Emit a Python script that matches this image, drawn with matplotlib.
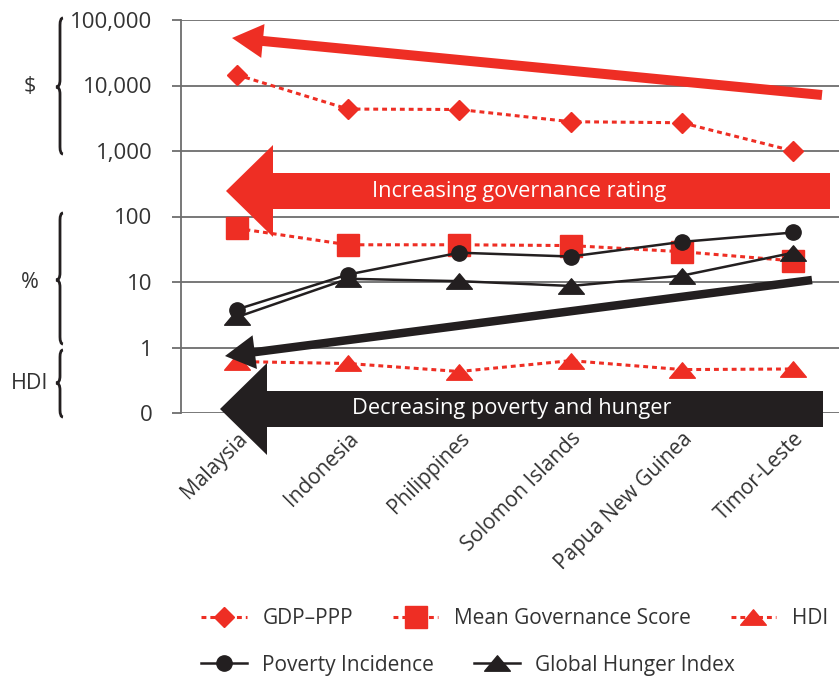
import matplotlib
matplotlib.use('Agg')
import matplotlib.pyplot as plt
from matplotlib.lines import Line2D
from matplotlib.patches import Polygon, PathPatch
from matplotlib.path import Path
import numpy as np

plt.rcParams['font.family'] = ['Open Sans', 'DejaVu Sans']

countries = ['Malaysia', 'Indonesia', 'Philippines', 'Solomon Islands', 'Papua New Guinea', 'Timor-Leste']
gdp_ppp = [14600, 4370, 4300, 2800, 2700, 1000]
governance = [66, 37, 37, 36, 29, 21]
hdi = [0.61, 0.57, 0.43, 0.63, 0.46, 0.47]
poverty = [3.8, 13, 28, 24.5, 41, 57]
hunger = [2.9, 11.2, 10.3, 8.7, 12.5, 28]

y_ticks = [0.1, 1, 10, 100, 1000, 10000, 100000]
y_labels = ['0', '1', '10', '100', '1,000', '10,000', '100,000']

RED = '#EE2E24'
BLACK = '#231F20'
TXT = '#333333'
W, H = 839, 677

# flattened triangle marker
tri = Path([(0, 0.6), (-1, -0.6), (1, -0.6), (0, 0.6)], closed=True)

fig = plt.figure(figsize=(W / 100, H / 100), dpi=100)
ax = fig.add_axes([181 / W, 1 - 413 / H, 1 - 181 / W, (413 - 20) / H])

x = np.arange(len(countries))
dash = (0, (1.6, 1.3))
ax.plot(x, gdp_ppp, color=RED, lw=2.2, ls=dash, marker='D', ms=10.5, zorder=3)
ax.plot(x, governance, color=RED, lw=2.2, ls=dash, marker='s', ms=15.5, zorder=3)
ax.plot(x, hdi, color=RED, lw=2.2, ls=dash, marker=tri, ms=18.5, zorder=3)
ax.plot(x, poverty, color=BLACK, lw=1.8, marker='o', ms=11, zorder=4)
ax.plot(x, hunger, color=BLACK, lw=1.8, marker=tri, ms=18.5, zorder=4)

ax.set_yscale('log')
ax.set_ylim(0.1, 100000)
ax.set_xlim(-0.5, 5.41)
ax.set_yticks(y_ticks)
ax.set_yticklabels(y_labels)
ax.yaxis.set_minor_locator(matplotlib.ticker.NullLocator())
ax.set_xticks(x)
ax.set_xticklabels(countries, rotation=45, ha='right', va='top', rotation_mode='anchor')
ax.tick_params(axis='y', length=6.5, width=1.3, color='#6d6d6d', pad=14, labelsize=16, labelcolor=TXT)
ax.tick_params(axis='x', length=0, pad=11, labelsize=15, labelcolor=TXT)
ax.grid(axis='y', color='#6d6d6d', lw=1.3)
ax.set_axisbelow(True)
for s in ['top', 'right', 'bottom']:
    ax.spines[s].set_visible(False)
ax.spines['left'].set_color('#6d6d6d')
ax.spines['left'].set_linewidth(1.3)


def fig_pts(pts):
    return [(px / W, 1 - py / H) for px, py in pts]


def thin_arrow(tail, tip, shaft_w, head_w, head_len):
    t = np.array(tail, float)
    p = np.array(tip, float)
    d = (p - t) / np.linalg.norm(p - t)
    n = np.array([-d[1], d[0]])
    b = p - d * head_len
    pts = [t + n * shaft_w / 2, b + n * shaft_w / 2, b + n * head_w / 2, p,
           b - n * head_w / 2, b - n * shaft_w / 2, t - n * shaft_w / 2]
    return [tuple(q) for q in pts]


def big_arrow(tip, head_x, head_top, head_bot, body_top, body_bot, right):
    return [tip, (head_x, head_top), (head_x, body_top), (right, body_top),
            (right, body_bot), (head_x, body_bot), (head_x, head_bot)]


# trend arrows
fig.add_artist(Polygon(fig_pts(thin_arrow((822, 95), (232, 38), 10, 34, 31)),
                       closed=True, fc=RED, ec='none', transform=fig.transFigure, zorder=6))
fig.add_artist(Polygon(fig_pts(thin_arrow((812, 280), (225, 356), 8.5, 34, 30)),
                       closed=True, fc=BLACK, ec='none', transform=fig.transFigure, zorder=6))
fig.add_artist(Polygon(fig_pts(big_arrow((226, 191), 273, 145, 237, 173, 209, 830)),
                       closed=True, fc=RED, ec='none', transform=fig.transFigure, zorder=6))
fig.add_artist(Polygon(fig_pts(big_arrow((220, 409), 267, 363, 455, 391, 427, 823)),
                       closed=True, fc=BLACK, ec='none', transform=fig.transFigure, zorder=6))
fig.text(519 / W, 1 - 191 / H, 'Increasing governance rating', color='white', fontsize=15.7,
         ha='center', va='center', zorder=7)
fig.text(512 / W, 1 - 409 / H, 'Decreasing poverty and hunger', color='white', fontsize=15.7,
         ha='center', va='center', zorder=7)


# unit braces on the left
def brace(x0, top, mid, bot):
    c = 7
    verts = [(x0 + 3, top), (x0, top), (x0, top + c), (x0, mid - c), (x0, mid), (x0 - 4, mid),
             (x0, mid), (x0, mid + c), (x0, bot - c), (x0, bot), (x0 + 3, bot)]
    codes = [Path.MOVETO, Path.CURVE3, Path.CURVE3, Path.LINETO, Path.CURVE3, Path.CURVE3,
             Path.CURVE3, Path.CURVE3, Path.LINETO, Path.CURVE3, Path.CURVE3]
    fig.add_artist(PathPatch(Path(fig_pts(verts), codes), fc='none', ec=BLACK, lw=2,
                             transform=fig.transFigure))


brace(60, 18, 87, 154)
brace(60, 213, 280, 344)
brace(60, 350, 383, 417)
for label, ly in [('$', 87), ('%', 283), ('HDI', 383)]:
    fig.text(30 / W, 1 - ly / H, label, color=TXT, fontsize=15.5, ha='center', va='center')

# legend
def handle(color, ls, marker, ms):
    return Line2D([], [], color=color, lw=2.2 if ls != '-' else 1.8, ls=ls, marker=marker, ms=ms)

leg_kw = dict(frameon=False, fontsize=15, handlelength=2.2, handletextpad=0.75,
              columnspacing=1.9, borderpad=0, borderaxespad=0, loc='center left')
leg1 = fig.legend([handle(RED, dash, 'D', 10.5), handle(RED, dash, 's', 15.5), handle(RED, dash, tri, 18.5)],
                  ['GDP\u2013PPP', 'Mean Governance Score', 'HDI'], ncol=3,
                  bbox_to_anchor=(201 / W, 1 - 619 / H), **leg_kw)
for t in leg1.get_texts():
    t.set_color(TXT)
leg2 = fig.legend([handle(BLACK, '-', 'o', 11), handle(BLACK, '-', tri, 18.5)],
                  ['Poverty Incidence', 'Global Hunger Index'], ncol=2,
                  bbox_to_anchor=(201 / W, 1 - 665 / H), **leg_kw)
for t in leg2.get_texts():
    t.set_color(TXT)

fig.savefig('out.png', dpi=100)
